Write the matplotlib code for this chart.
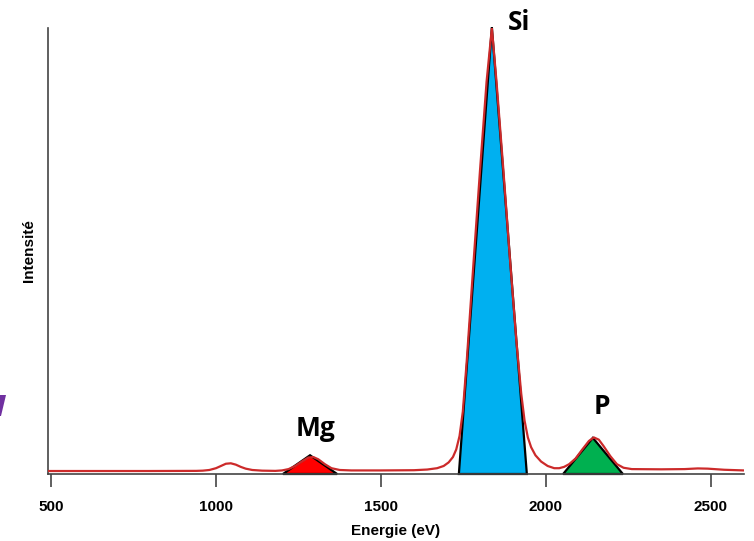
import matplotlib
matplotlib.use("Agg")
import matplotlib.pyplot as plt
from matplotlib.patches import Polygon

# spectrum (energy in eV, intensity in arbitrary units)
energy = [490, 600, 800, 940, 960, 980, 1000, 1015, 1030, 1045, 1060, 1075,
          1090, 1110, 1140, 1180, 1200, 1220, 1240, 1260, 1280, 1295, 1310,
          1330, 1350, 1375, 1410, 1500, 1600, 1640, 1670, 1690, 1705, 1718,
          1728, 1738, 1748, 1760, 1780, 1800, 1820, 1836, 1850, 1870, 1890,
          1910, 1925, 1935, 1945, 1955, 1968, 1985, 2005, 2025, 2040, 2055,
          2070, 2090, 2110, 2130, 2145, 2160, 2175, 2195, 2215, 2235, 2260,
          2350, 2420, 2460, 2490, 2540, 2600]
intensity = [6.7, 6.7, 6.7, 7, 7.5, 9, 13, 18, 23, 24, 21, 16,
             12, 9, 7.5, 7, 8, 11, 18, 28, 37, 38, 33,
             22, 13, 9, 8, 8, 8.5, 10, 13, 18, 26, 38,
             55, 85, 140, 255, 470, 680, 880, 1000, 880, 690, 490,
             300, 180, 120, 82, 60, 42, 28, 18, 13, 13, 16,
             22, 35, 55, 74, 82, 77, 62, 40, 22, 14, 11,
             10.5, 11, 12.5, 12, 9.5, 8]

# marked peaks: name, base left, apex, base right, apex height
peak_names = ["Mg", "Si", "P"]
peak_left = [1203, 1736, 2052]
peak_apex = [1285, 1836, 2142]
peak_right = [1367, 1942, 2233]
peak_height = [42, 1002, 81]
peak_colors = ["#ff0000", "#00b0f0", "#00b050"]

xticks = [500, 1000, 1500, 2000, 2500]

fig = plt.figure(figsize=(7.54, 5.41), dpi=100)
ax = fig.add_axes([48 / 754, 1 - 474 / 541, 696 / 754, 446 / 541])

for name, l, a, r, h, c in zip(peak_names, peak_left, peak_apex, peak_right,
                               peak_height, peak_colors):
    tri = Polygon([(l, 0), (a, h), (r, 0)], closed=True, facecolor=c,
                  edgecolor="black", linewidth=1.6, zorder=2, clip_on=False)
    ax.add_patch(tri)

ax.plot(energy, intensity, color="#cc2a2a", linewidth=1.6, zorder=3,
        solid_joinstyle="round")

label_font = dict(family="Open Sans", weight="bold", fontsize=19, ha="center")
ax.text(1285 + 16, 71, "Mg", va="bottom", **label_font)
ax.text(1836 + 82, 1012, "Si", va="center", **label_font)
ax.text(2142 + 28, 120, "P", va="bottom", **label_font)

ax.set_xlim(491, 2600)
ax.set_ylim(0, 1000)
ax.set_xticks(xticks)
ax.set_yticks([])
for lab in ax.get_xticklabels():
    lab.set_fontfamily("Liberation Sans")
    lab.set_fontweight("bold")
    lab.set_fontsize(11)
ax.tick_params(axis="x", length=9, width=1.2, color="#444444", pad=10)

for side in ["top", "right"]:
    ax.spines[side].set_visible(False)
for side in ["left", "bottom"]:
    ax.spines[side].set_color("#444444")
    ax.spines[side].set_linewidth(1.2)

ax.set_xlabel("Energie (eV)", family="Liberation Sans", weight="bold",
              fontsize=11, labelpad=7)
ax.set_ylabel("Intensité", family="Liberation Sans", weight="bold",
              fontsize=11, labelpad=9)

# stray purple shape cropped at the left edge
fig.patches.append(Polygon([(0, 1 - 395 / 541), (6 / 754, 1 - 395 / 541),
                            (1 / 754, 1 - 416 / 541), (0, 1 - 416 / 541)],
                           closed=True, transform=fig.transFigure,
                           facecolor="#7030a0", edgecolor="none"))

fig.savefig("out.png", dpi=100)
